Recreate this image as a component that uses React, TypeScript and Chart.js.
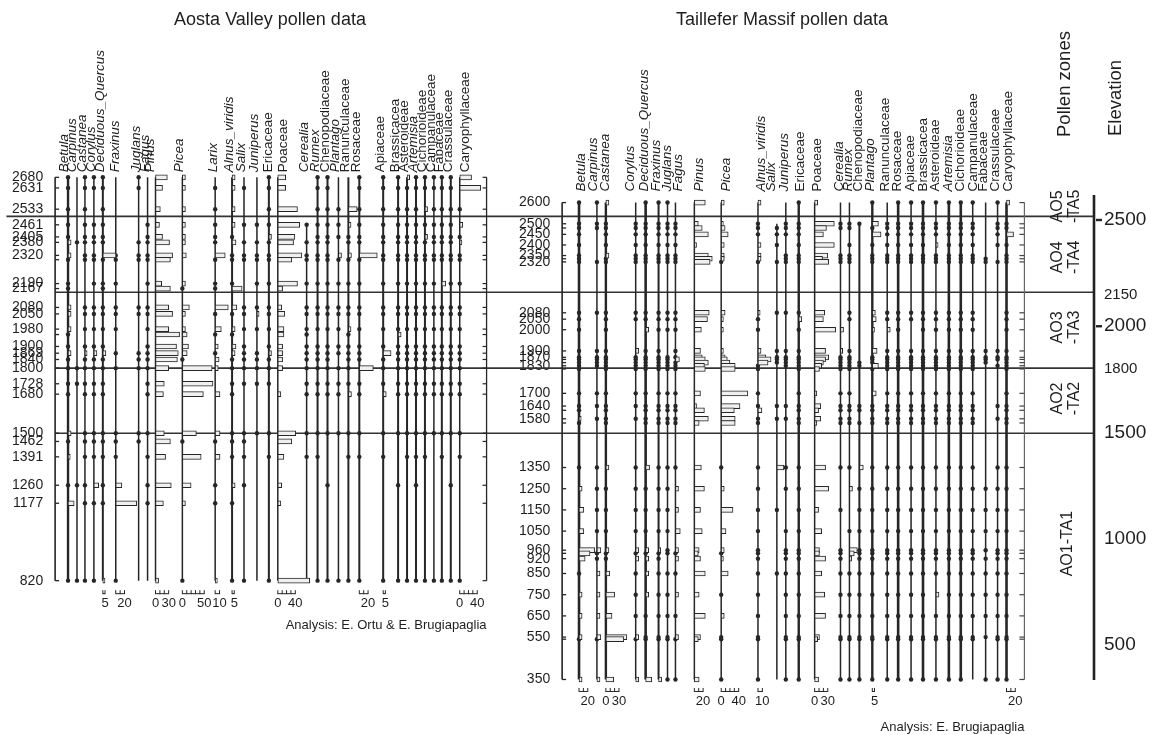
import { useEffect, useRef } from "react";
import { Chart, registerables } from "chart.js";

Chart.register(...registerables);

const FONT = "'Liberation Sans', Arial, Helvetica, sans-serif";
const INK = "#262626";

// ---------------- Aosta Valley record ----------------
// sample elevations (m a.s.l.), top to bottom
const aostaElev = [2680, 2631, 2533, 2461, 2405, 2380, 2320, 2300, 2190, 2167, 2080, 2050, 1980, 1955, 1900, 1869, 1840, 1800, 1728, 1680, 1500, 1462, 1391, 1260, 1177, 820];
const aostaTickLabels = [2680, 2631, 2533, 2461, 2405, 2380, 2320, 2190, 2167, 2080, 2050, 1980, 1900, 1869, 1840, 1800, 1728, 1680, 1500, 1462, 1391, 1260, 1177, 820];

// pollen percentages per taxon, one value per sample
const aoBetula = [1, 1, 1, 1, 1, 7, 7, 1, 1, 1, 7, 7, 7, 1, 1, 7, 1, 1, 1, 1, 7, 1, 5, 1, 14, 1];
const aoCarpinus = [0, 0, 0, 0, 0, 1, 0, 0, 0, 0, 0, 0, 0, 0, 0, 0, 0, 1, 1, 0, 0, 0, 0, 1, 0, 1];
const aoCastanea = [1, 1, 1, 1, 1, 1, 1, 1, 0, 0, 1, 1, 1, 0, 1, 5, 1, 1, 1, 1, 1, 1, 1, 1, 1, 1];
const aoCorylus = [1, 1, 0, 1, 1, 1, 1, 1, 1, 0, 1, 1, 1, 0, 1, 7, 1, 1, 1, 1, 1, 1, 1, 11, 1, 1];
const aoQuercus = [1, 1, 1, 1, 1, 1, 30, 1, 1, 1, 1, 1, 1, 0, 1, 7, 1, 1, 1, 1, 1, 1, 1, 1, 1, 5];
const aoFraxinus = [0, 0, 0, 0, 0, 0, 1, 1, 1, 0, 1, 1, 1, 0, 0, 1, 0, 1, 0, 0, 1, 1, 1, 14, 48, 1];
const aoJuglans = [1, 1, 0, 0, 0, 1, 1, 1, 0, 0, 1, 1, 0, 0, 0, 1, 1, 1, 0, 0, 1, 1, 0, 0, 0, 0];
const aoFagus = [0, 0, 0, 1, 1, 1, 1, 1, 1, 0, 1, 1, 1, 0, 1, 1, 1, 1, 1, 1, 1, 0, 1, 1, 1, 0];
const aoPinus = [27, 16, 11, 9, 16, 32, 39, 34, 14, 34, 30, 39, 30, 55, 48, 52, 50, 30, 20, 18, 20, 34, 23, 36, 18, 7];
const aoPicea = [7, 7, 7, 7, 7, 7, 9, 0, 7, 1, 16, 7, 7, 11, 14, 11, 1, 68, 70, 48, 32, 1, 43, 20, 7, 1];
const aoLarix = [0, 1, 1, 1, 1, 1, 23, 1, 1, 1, 30, 1, 14, 1, 7, 1, 9, 7, 0, 11, 11, 1, 11, 1, 1, 5];
const aoAlnus = [7, 7, 7, 7, 1, 9, 1, 1, 1, 23, 11, 1, 7, 1, 9, 7, 1, 1, 1, 1, 1, 1, 1, 7, 1, 1];
const aoSalix = [0, 1, 0, 1, 0, 1, 1, 1, 0, 0, 1, 1, 1, 0, 1, 1, 1, 1, 1, 0, 1, 1, 1, 1, 0, 1];
const aoJuniperus = [0, 0, 0, 1, 0, 1, 1, 1, 1, 0, 1, 5, 1, 0, 0, 1, 1, 1, 1, 0, 1, 0, 0, 0, 0, 0];
const aoEricaceae = [1, 1, 1, 1, 6, 1, 1, 1, 1, 0, 1, 1, 1, 0, 1, 6, 1, 1, 1, 0, 1, 0, 1, 0, 0, 1];
const aoPoaceae = [18, 18, 45, 50, 39, 36, 55, 32, 45, 11, 9, 16, 14, 14, 11, 11, 11, 11, 0, 7, 41, 32, 14, 9, 7, 73];
const aoCerealia = [0, 0, 0, 1, 0, 1, 1, 1, 1, 0, 1, 1, 1, 1, 1, 1, 1, 1, 1, 1, 1, 0, 1, 0, 0, 1];
const aoRumex = [1, 1, 1, 1, 1, 1, 1, 1, 1, 0, 1, 1, 1, 0, 1, 1, 1, 1, 1, 1, 1, 0, 1, 0, 0, 1];
const aoChenopod = [1, 1, 1, 1, 1, 1, 1, 1, 1, 0, 1, 1, 1, 0, 1, 1, 1, 1, 1, 1, 1, 0, 0, 1, 0, 1];
const aoPlantago = [0, 0, 1, 1, 1, 0, 7, 1, 1, 0, 1, 1, 1, 0, 1, 1, 0, 1, 1, 1, 1, 0, 0, 0, 0, 1];
const aoRanunc = [0, 0, 20, 6, 1, 1, 7, 1, 1, 0, 1, 1, 6, 1, 1, 1, 1, 1, 1, 7, 1, 0, 1, 0, 0, 1];
const aoRosaceae = [1, 1, 1, 1, 1, 1, 41, 1, 1, 0, 1, 1, 1, 0, 1, 1, 1, 32, 1, 1, 1, 0, 1, 0, 0, 1];
const aoApiaceae = [1, 1, 1, 1, 1, 1, 1, 1, 1, 0, 1, 1, 1, 0, 1, 18, 1, 1, 1, 7, 1, 0, 1, 0, 0, 1];
const aoBrassica = [1, 1, 1, 1, 1, 1, 1, 1, 1, 0, 1, 1, 1, 7, 1, 1, 1, 1, 1, 1, 1, 0, 0, 1, 0, 1];
const aoAsteroid = [6, 1, 1, 1, 1, 1, 1, 1, 1, 0, 1, 1, 1, 0, 1, 1, 1, 1, 1, 1, 1, 0, 1, 0, 0, 1];
const aoArtemisia = [1, 1, 1, 1, 1, 1, 1, 1, 1, 0, 1, 1, 1, 0, 1, 1, 1, 1, 1, 1, 1, 0, 1, 1, 0, 1];
const aoCichor = [1, 1, 6, 1, 6, 1, 1, 1, 1, 0, 1, 1, 1, 0, 1, 1, 1, 1, 1, 1, 1, 0, 1, 0, 0, 1];
const aoCampan = [1, 1, 1, 1, 1, 1, 1, 1, 1, 0, 1, 1, 1, 0, 1, 1, 1, 1, 1, 1, 1, 0, 0, 0, 0, 1];
const aoFabaceae = [1, 1, 1, 1, 1, 1, 1, 1, 9, 0, 1, 1, 1, 0, 1, 1, 1, 1, 1, 1, 1, 0, 1, 0, 0, 1];
const aoCrassul = [1, 1, 1, 1, 1, 1, 1, 1, 1, 0, 1, 1, 1, 0, 1, 1, 1, 1, 1, 1, 1, 0, 0, 1, 0, 1];
const aoCaryoph = [27, 48, 1, 7, 1, 5, 1, 1, 1, 0, 1, 1, 1, 0, 1, 1, 1, 1, 1, 1, 1, 0, 1, 0, 0, 1];

// percentage scale keys under the Aosta columns
const aostaScaleTaxa = ["Deciduous_Quercus", "Fraxinus", "Pinus", "Picea", "Larix", "Alnus_viridis", "Poaceae", "Rosaceae", "Apiaceae", "Caryophyllaceae"];
const aostaScaleMax = [5, 20, 30, 50, 10, 5, 40, 20, 5, 40];
const aostaScaleZero = [false, false, true, true, false, false, true, false, false, true];

// ---------------- Taillefer Massif record ----------------
const taillElev = [2600, 2500, 2480, 2450, 2400, 2350, 2335, 2320, 2080, 2050, 2000, 1900, 1870, 1860, 1845, 1830, 1815, 1700, 1640, 1620, 1580, 1560, 1350, 1250, 1150, 1050, 960, 945, 920, 850, 750, 650, 550, 540, 350];
const taillTickLabels = [2600, 2500, 2450, 2400, 2350, 2320, 2080, 2050, 2000, 1900, 1870, 1830, 1700, 1640, 1580, 1350, 1250, 1150, 1050, 960, 920, 850, 750, 650, 550, 350];

const tfBetula = [1, 1, 1, 1, 1, 1, 1, 1, 1, 1, 1, 1, 1, 1, 1, 1, 1, 1, 1, 1, 5, 1, 1, 7, 11, 11, 36, 25, 14, 1, 7, 7, 7, 1, 7];
const tfCarpinus = [1, 1, 1, 0, 0, 0, 0, 1, 1, 0, 0, 1, 1, 1, 1, 1, 0, 1, 1, 0, 1, 0, 1, 1, 1, 1, 9, 1, 1, 7, 7, 7, 9, 1, 7];
const tfCastanea = [7, 1, 1, 1, 1, 7, 1, 1, 1, 1, 1, 1, 1, 1, 1, 1, 1, 1, 1, 1, 1, 1, 7, 1, 1, 1, 7, 1, 1, 9, 20, 14, 48, 41, 18];
const tfCorylus = [0, 1, 1, 1, 1, 1, 1, 1, 1, 1, 0, 7, 1, 1, 1, 1, 1, 1, 1, 0, 1, 0, 1, 1, 1, 1, 7, 1, 7, 1, 1, 1, 7, 1, 7];
const tfQuercus = [1, 1, 1, 1, 1, 1, 1, 1, 1, 1, 7, 1, 1, 1, 1, 1, 1, 1, 1, 1, 1, 1, 9, 1, 1, 1, 7, 1, 7, 7, 7, 1, 1, 1, 14];
const tfFraxinus = [1, 1, 1, 1, 1, 1, 1, 1, 1, 1, 1, 1, 1, 1, 1, 1, 1, 1, 1, 1, 1, 1, 1, 1, 1, 1, 5, 1, 1, 1, 1, 1, 1, 1, 7];
const tfJuglans = [1, 1, 1, 1, 1, 1, 1, 1, 1, 1, 1, 0, 1, 1, 1, 1, 1, 1, 1, 1, 1, 1, 1, 1, 1, 1, 1, 1, 0, 1, 1, 1, 1, 1, 1];
const tfFagus = [0, 1, 1, 1, 1, 1, 1, 1, 1, 1, 1, 1, 1, 9, 1, 1, 1, 1, 1, 1, 1, 1, 1, 7, 7, 11, 7, 1, 7, 1, 7, 1, 7, 1, 1];
const tfPinus = [25, 9, 18, 32, 5, 32, 41, 36, 34, 30, 16, 14, 18, 25, 32, 23, 25, 14, 5, 23, 32, 11, 16, 23, 14, 18, 11, 9, 14, 25, 11, 25, 14, 9, 11];
const tfPicea = [7, 5, 9, 16, 7, 7, 7, 2, 9, 5, 5, 5, 9, 14, 20, 32, 32, 61, 43, 30, 32, 32, 1, 7, 27, 11, 7, 2, 5, 16, 1, 7, 1, 1, 1];
const tfAlnus = [7, 1, 1, 1, 7, 7, 7, 1, 5, 1, 1, 7, 18, 30, 23, 1, 1, 1, 1, 9, 1, 1, 1, 1, 1, 1, 1, 1, 1, 1, 1, 1, 1, 1, 1];
const tfSalix = [0, 0, 1, 1, 1, 0, 0, 1, 1, 0, 0, 1, 1, 1, 1, 0, 0, 0, 1, 0, 1, 0, 16, 0, 1, 0, 0, 0, 0, 1, 0, 0, 0, 0, 0];
const tfJuniperus = [0, 1, 1, 1, 0, 1, 1, 1, 1, 0, 0, 1, 1, 1, 1, 1, 0, 0, 1, 0, 1, 0, 1, 1, 0, 1, 1, 1, 1, 1, 1, 1, 1, 1, 1];
const tfEricaceae = [1, 1, 1, 1, 1, 1, 1, 1, 1, 7, 1, 1, 1, 1, 1, 1, 1, 1, 1, 1, 1, 1, 1, 1, 1, 1, 1, 1, 1, 1, 1, 1, 1, 1, 1];
const tfPoaceae = [7, 45, 27, 20, 45, 30, 18, 32, 23, 20, 48, 25, 32, 25, 20, 16, 11, 5, 14, 9, 14, 5, 25, 32, 9, 16, 11, 11, 25, 16, 23, 25, 11, 7, 9];
const tfCerealia = [0, 1, 1, 0, 0, 1, 1, 1, 0, 0, 7, 5, 1, 1, 1, 1, 1, 1, 1, 1, 1, 1, 1, 0, 1, 0, 1, 1, 1, 1, 1, 1, 1, 1, 1];
const tfRumex = [0, 1, 1, 0, 1, 1, 1, 1, 1, 1, 0, 1, 1, 1, 1, 1, 1, 1, 1, 1, 1, 1, 1, 7, 0, 1, 18, 11, 5, 1, 1, 1, 1, 1, 1];
const tfChenopod = [0, 1, 0, 0, 0, 0, 0, 0, 0, 0, 0, 0, 0, 0, 1, 1, 0, 0, 1, 1, 0, 1, 9, 1, 1, 1, 1, 1, 1, 1, 1, 1, 1, 1, 1];
const tfPlantago = [1, 14, 1, 20, 1, 1, 1, 1, 7, 9, 5, 11, 1, 1, 1, 14, 1, 9, 1, 1, 1, 1, 1, 1, 1, 1, 1, 1, 1, 1, 1, 1, 1, 1, 1];
const tfRanunc = [0, 1, 1, 1, 1, 1, 1, 1, 1, 1, 7, 1, 1, 1, 1, 1, 1, 1, 1, 1, 1, 1, 1, 1, 1, 1, 1, 1, 1, 1, 1, 1, 1, 1, 1];
const tfRosaceae = [1, 1, 1, 1, 1, 1, 1, 1, 1, 1, 1, 1, 1, 1, 1, 1, 1, 1, 1, 1, 1, 1, 1, 1, 1, 1, 1, 1, 1, 1, 1, 1, 1, 1, 1];
const tfApiaceae = [1, 1, 1, 1, 1, 1, 1, 1, 1, 1, 0, 1, 1, 1, 1, 1, 1, 1, 1, 1, 1, 1, 1, 1, 1, 1, 1, 1, 1, 1, 1, 1, 1, 1, 1];
const tfBrassica = [1, 1, 1, 1, 1, 1, 1, 1, 1, 1, 1, 1, 1, 1, 1, 1, 1, 1, 1, 1, 1, 1, 1, 1, 1, 1, 1, 1, 1, 1, 1, 1, 1, 1, 1];
const tfAsteroid = [1, 1, 1, 1, 5, 1, 1, 1, 1, 1, 1, 1, 1, 1, 1, 1, 1, 1, 1, 1, 1, 1, 1, 1, 1, 1, 1, 1, 1, 1, 7, 1, 1, 1, 1];
const tfArtemisia = [1, 1, 1, 1, 1, 1, 1, 1, 1, 1, 1, 1, 1, 1, 1, 1, 1, 1, 1, 1, 1, 1, 1, 1, 1, 1, 1, 1, 1, 1, 1, 1, 1, 1, 1];
const tfCichor = [1, 1, 1, 1, 1, 1, 1, 1, 1, 1, 1, 1, 1, 1, 1, 1, 1, 1, 1, 1, 1, 1, 1, 1, 1, 1, 1, 1, 1, 1, 1, 1, 1, 1, 1];
const tfCampan = [1, 1, 1, 1, 1, 1, 1, 1, 1, 1, 1, 1, 1, 1, 1, 1, 1, 1, 1, 1, 1, 1, 1, 1, 1, 1, 1, 1, 1, 1, 1, 1, 1, 1, 0];
const tfFabaceae = [0, 0, 0, 0, 0, 0, 1, 1, 0, 0, 0, 1, 1, 1, 1, 0, 0, 0, 0, 0, 0, 0, 0, 1, 1, 1, 1, 0, 1, 1, 1, 1, 1, 0, 1];
const tfCrassul = [1, 1, 1, 1, 1, 0, 0, 1, 0, 0, 0, 1, 1, 1, 0, 1, 0, 0, 1, 0, 1, 0, 1, 1, 1, 1, 1, 1, 1, 1, 1, 1, 1, 1, 1];
const tfCaryoph = [7, 1, 1, 16, 1, 1, 1, 1, 1, 1, 1, 1, 1, 1, 1, 1, 1, 1, 1, 1, 1, 1, 1, 1, 1, 1, 1, 1, 1, 1, 1, 1, 1, 1, 1];

const taillScaleTaxa = ["Betula", "Castanea", "Pinus", "Picea", "Alnus_viridis", "Poaceae", "Plantago", "Caryophyllaceae"];
const taillScaleMax = [20, 30, 20, 40, 10, 30, 5, 20];
const taillScaleZero = [false, true, false, true, false, true, false, false];

// ---------------- zones and elevation axis ----------------
const zoneBounds = [2500, 2150, 1800, 1500];
const zoneNames = [["AO5", "-TA5"], ["AO4", "-TA4"], ["AO3", "-TA3"], ["AO2", "-TA2"], ["AO1-TA1"]];
const zoneLabelElev = [2546, 2311, 1988, 1660, 991];
const elevationTicks = [2500, 2150, 2000, 1800, 1500, 1000, 500];
const elevationMinor = [2150, 1800];
const elevationSpan = [2618, 335];

// ---------------- layout ----------------
const PCT = 0.44; // x-axis units per pollen percent
const PLOT_RIGHT = 1094;
const A_RANGE = { min: 312.7, max: 2712.3 };
const T_RANGE = { min: 293, max: 2756.3 };
// the elevation axis box reaches past the plot area by its label half-heights
const E_RANGE = { min: 231.8, max: 2787 };
const HEAD_FONT = 13.5;

type Column = { name: string; values: number[]; x: number; italic?: boolean; w?: number; dx?: number; from?: number };

const aostaCols: Column[] = [
  { name: "Betula", values: aoBetula, x: 62, italic: true, w: 2.4, dx: 0 },
  { name: "Carpinus", values: aoCarpinus, x: 71, italic: true, dx: -1 },
  { name: "Castanea", values: aoCastanea, x: 79, italic: true },
  { name: "Corylus", values: aoCorylus, x: 88, italic: true },
  { name: "Deciduous_Quercus", values: aoQuercus, x: 97, italic: true, w: 2 },
  { name: "Fraxinus", values: aoFraxinus, x: 110, italic: true, dx: 3 },
  { name: "Juglans", values: aoJuglans, x: 133, italic: true },
  { name: "Fagus", values: aoFagus, x: 142, italic: true },
  { name: "Pinus", values: aoPinus, x: 150, italic: true, dx: -2 },
  { name: "Picea", values: aoPicea, x: 177, italic: true },
  { name: "Larix", values: aoLarix, x: 210, italic: true, dx: 2 },
  { name: "Alnus_viridis", values: aoAlnus, x: 227, italic: true, w: 2 },
  { name: "Salix", values: aoSalix, x: 239, italic: true },
  { name: "Juniperus", values: aoJuniperus, x: 252, italic: true },
  { name: "Ericaceae", values: aoEricaceae, x: 264, w: 2, dx: 3 },
  { name: "Poaceae", values: aoPoaceae, x: 273, dx: 9 },
  { name: "Cerealia", values: aoCerealia, x: 302, italic: true, from: 2461 },
  { name: "Rumex", values: aoRumex, x: 313, italic: true, w: 2 },
  { name: "Chenopodiaceae", values: aoChenopod, x: 323, w: 2 },
  { name: "Plantago", values: aoPlantago, x: 334, italic: true },
  { name: "Ranunculaceae", values: aoRanunc, x: 344, w: 2 },
  { name: "Rosaceae", values: aoRosaceae, x: 355, w: 2 },
  { name: "Apiaceae", values: aoApiaceae, x: 379, w: 2 },
  { name: "Brassicacea", values: aoBrassica, x: 394, w: 2 },
  { name: "Asteroideae", values: aoAsteroid, x: 403, w: 2 },
  { name: "Artemisia", values: aoArtemisia, x: 412, italic: true, w: 2 },
  { name: "Cichorioideae", values: aoCichor, x: 421, w: 2 },
  { name: "Campanulaceae", values: aoCampan, x: 430 },
  { name: "Fabaceae", values: aoFabaceae, x: 438, w: 2 },
  { name: "Crassulaceae", values: aoCrassul, x: 447, w: 2 },
  { name: "Caryophyllaceae", values: aoCaryoph, x: 456, dx: 9 },
];

const taillCols: Column[] = [
  { name: "Betula", values: tfBetula, x: 576, italic: true, w: 2.6, dx: 6 },
  { name: "Carpinus", values: tfCarpinus, x: 594, italic: true, dx: 0 },
  { name: "Castanea", values: tfCastanea, x: 603, italic: true, w: 2.4 },
  { name: "Corylus", values: tfCorylus, x: 633, italic: true, dx: -2 },
  { name: "Deciduous_Quercus", values: tfQuercus, x: 643, italic: true, w: 2.6, dx: 2 },
  { name: "Fraxinus", values: tfFraxinus, x: 656, italic: true, w: 2, dx: 1 },
  { name: "Juglans", values: tfJuglans, x: 665, italic: true },
  { name: "Fagus", values: tfFagus, x: 673, italic: true, dx: 7 },
  { name: "Pinus", values: tfPinus, x: 692, italic: true, dx: 9 },
  { name: "Picea", values: tfPicea, x: 719, italic: true, dx: 9 },
  { name: "Alnus_viridis", values: tfAlnus, x: 756, italic: true, dx: 7 },
  { name: "Salix", values: tfSalix, x: 775, italic: true, dx: -2, from: 2500 },
  { name: "Juniperus", values: tfJuniperus, x: 784, italic: true, dx: 2 },
  { name: "Ericaceae", values: tfEricaceae, x: 797, w: 2.4, dx: 5 },
  { name: "Poaceae", values: tfPoaceae, x: 813, dx: 6 },
  { name: "Cerealia", values: tfCerealia, x: 839, italic: true },
  { name: "Rumex", values: tfRumex, x: 848, italic: true },
  { name: "Chenopodiaceae", values: tfChenopod, x: 858, w: 2, from: 2500 },
  { name: "Plantago", values: tfPlantago, x: 871, italic: true, w: 2.4, dx: 2 },
  { name: "Ranunculaceae", values: tfRanunc, x: 886, dx: 2 },
  { name: "Rosaceae", values: tfRosaceae, x: 897, w: 2.6 },
  { name: "Apiaceae", values: tfApiaceae, x: 910 },
  { name: "Brassicacea", values: tfBrassica, x: 922, w: 2.6, dx: 4 },
  { name: "Asteroideae", values: tfAsteroid, x: 935 },
  { name: "Artemisia", values: tfArtemisia, x: 948, italic: true, w: 2.6 },
  { name: "Cichorioideae", values: tfCichor, x: 960, w: 2.6 },
  { name: "Campanulaceae", values: tfCampan, x: 972, dx: 4 },
  { name: "Fabaceae", values: tfFabaceae, x: 985, dx: 1 },
  { name: "Crassulaceae", values: tfCrassul, x: 997, dx: 1 },
  { name: "Caryophyllaceae", values: tfCaryoph, x: 1006, w: 2.6, dx: 5 },
];

// ---------------- dataset builders ----------------
function vline(x: number, y0: number, y1: number, yAxisID: string, width: number, color = INK, order = 2) {
  return {
    type: "scatter",
    showLine: true,
    data: [{ x, y: y0 }, { x, y: y1 }],
    yAxisID,
    borderColor: color,
    borderWidth: width,
    pointRadius: 0,
    order,
    clip: false,
  };
}

function diagramDatasets(cols: Column[], elev: number[], yAxisID: string) {
  const out: any[] = [];
  const bars: any[] = [];
  const dots: any[] = [];
  const top = elev[0];
  const bottom = elev[elev.length - 1];
  cols.forEach((c) => {
    out.push(vline(c.x, c.from ?? top, bottom, yAxisID, c.w ?? 1.5));
    c.values.forEach((v, i) => {
      if (!v) return;
      const len = v * PCT;
      if (len >= 2) bars.push({ y: elev[i], x: [c.x, c.x + len] });
      else dots.push({ x: c.x, y: elev[i] });
    });
  });
  out.push({
    type: "bar",
    indexAxis: "y",
    yAxisID,
    data: bars,
    backgroundColor: "#f0f0f0",
    borderColor: INK,
    borderWidth: 1,
    borderSkipped: false,
    barThickness: 5,
    order: 0,
    clip: false,
  });
  out.push({
    type: "scatter",
    yAxisID,
    data: dots,
    pointStyle: "circle",
    pointRadius: 2.2,
    pointBackgroundColor: INK,
    pointBorderWidth: 0,
    order: 1,
    clip: false,
  });
  return out;
}

function tickMarks(x: number, values: number[], yAxisID: string, r: number, width: number, color = INK) {
  return {
    type: "scatter",
    yAxisID,
    data: values.map((v) => ({ x, y: v })),
    pointStyle: "line",
    pointRadius: r,
    pointBorderColor: color,
    pointBorderWidth: width,
    order: 1,
    clip: false,
  };
}

function rotText(ctx: CanvasRenderingContext2D, text: string, x: number, y: number, font: string, align: CanvasTextAlign = "left", baseline: CanvasTextBaseline = "alphabetic") {
  ctx.save();
  ctx.translate(x, y);
  ctx.rotate(-Math.PI / 2);
  ctx.font = font;
  ctx.textAlign = align;
  ctx.textBaseline = baseline;
  ctx.fillText(text, 0, 0);
  ctx.restore();
}

const textLayer = {
  id: "textLayer",
  afterDraw(chart: any) {
    const { ctx } = chart;
    const sx = chart.scales.x;
    const yA = chart.scales.yA;
    const yT = chart.scales.yT;
    ctx.save();
    ctx.fillStyle = "#1e1e1e";

    ctx.font = `18px ${FONT}`;
    ctx.textAlign = "center";
    ctx.textBaseline = "middle";
    ctx.fillText("Aosta Valley pollen data", 270, 20);
    ctx.fillText("Taillefer Massif pollen data", 782, 20);

    // taxon headers
    const headers = (cols: Column[], y0: number, defDx: number) => {
      cols.forEach((c) => {
        rotText(ctx, c.name, sx.getPixelForValue(c.x) + (c.dx ?? defDx), y0, `${c.italic ? "italic " : ""}${HEAD_FONT}px ${FONT}`);
      });
    };
    headers(aostaCols, yA.getPixelForValue(aostaElev[0]) - 5, 1);
    headers(taillCols, yT.getPixelForValue(taillElev[0]) - 11, 3);

    // percentage scale keys
    const keys = (cols: Column[], taxa: string[], maxes: number[], zeros: boolean[], yBase: number) => {
      taxa.forEach((name, i) => {
        const col = cols.find((c) => c.name === name);
        if (!col) return;
        const max = maxes[i];
        const x0 = sx.getPixelForValue(col.x);
        const x1 = sx.getPixelForValue(col.x + max * PCT);
        ctx.strokeStyle = INK;
        ctx.lineWidth = 1;
        ctx.beginPath();
        ctx.moveTo(x0, yBase);
        ctx.lineTo(x1, yBase);
        const step = max <= 5 ? 5 : 10;
        for (let v = 0; v <= max; v += step) {
          const px = sx.getPixelForValue(col.x + v * PCT);
          ctx.moveTo(px, yBase + 0.5);
          ctx.lineTo(px, yBase - 3.5);
        }
        ctx.stroke();
        ctx.font = `13px ${FONT}`;
        ctx.textAlign = "center";
        ctx.textBaseline = "middle";
        ctx.fillText(String(max), x1, yBase + 10);
        if (zeros[i]) ctx.fillText("0", x0, yBase + 10);
      });
    };
    keys(aostaCols, aostaScaleTaxa, aostaScaleMax, aostaScaleZero, yA.getPixelForValue(aostaElev[aostaElev.length - 1]) + 13);
    keys(taillCols, taillScaleTaxa, taillScaleMax, taillScaleZero, yT.getPixelForValue(taillElev[taillElev.length - 1]) + 12);

    // credits
    ctx.font = `13px ${FONT}`;
    ctx.textAlign = "right";
    ctx.textBaseline = "middle";
    ctx.fillText("Analysis: E. Ortu & E. Brugiapaglia", sx.getPixelForValue(483), 625);
    ctx.fillText("Analysis: E. Brugiapaglia", sx.getPixelForValue(1024), 727);

    // zone names
    zoneNames.forEach((lines, i) => {
      const y = yA.getPixelForValue(zoneLabelElev[i]);
      const f = `16px ${FONT}`;
      if (lines.length === 2) {
        rotText(ctx, lines[0], 1058, y, f, "center", "middle");
        rotText(ctx, lines[1], 1075, y, f, "center", "middle");
      } else {
        rotText(ctx, lines[0], 1068, y, f, "center", "middle");
      }
    });

    rotText(ctx, "Pollen zones", 1065, 137, `18.5px ${FONT}`, "left", "middle");
    rotText(ctx, "Elevation", 1116, 136, `18.5px ${FONT}`, "left", "middle");
    ctx.restore();
  },
};

function buildConfig(): any {
  const datasets: any[] = [];

  // zone boundaries across both records
  zoneBounds.forEach((e, i) => {
    datasets.push({
      type: "scatter",
      showLine: true,
      data: [{ x: i === 0 ? 0 : 49, y: e }, { x: PLOT_RIGHT, y: e }],
      yAxisID: "yA",
      borderColor: "#333",
      borderWidth: 1.6,
      pointRadius: 0,
      order: 3,
      clip: false,
    });
  });

  datasets.push(...diagramDatasets(aostaCols, aostaElev, "yA"));
  datasets.push(...diagramDatasets(taillCols, taillElev, "yT"));

  // depth axes of each record
  const aTop = aostaElev[0];
  const aBot = aostaElev[aostaElev.length - 1];
  const tTop = taillElev[0];
  const tBot = taillElev[taillElev.length - 1];
  datasets.push(vline(49, aTop, aBot, "yA", 1.6));
  datasets.push(tickMarks(51, aostaElev, "yA", 2, 1.3));
  datasets.push(vline(483, aTop, aBot, "yA", 1.3));
  datasets.push(tickMarks(481, aostaElev, "yA", 2, 1.2));
  datasets.push(vline(559, tTop, tBot, "yT", 1.6));
  datasets.push(tickMarks(561, taillElev, "yT", 2, 1.3));
  datasets.push(vline(1024, tTop, tBot, "yT", 1.2, "#666"));
  datasets.push(tickMarks(1021.5, taillElev, "yT", 2.5, 1.2, "#444"));

  // elevation axis
  datasets.push(vline(PLOT_RIGHT, elevationSpan[0], elevationSpan[1], "yE", 2.6, "#222"));
  datasets.push(tickMarks(PLOT_RIGHT + 5, elevationTicks.filter((v) => !elevationMinor.includes(v)), "yE", 3, 2.4, "#222"));

  const sampleAxis = (ticks: number[], xPos: number, range: { min: number; max: number }) => ({
    type: "linear",
    axis: "y",
    position: { x: xPos },
    min: range.min,
    max: range.max,
    grid: { display: false, drawTicks: false },
    border: { display: false },
    afterBuildTicks: (s: any) => {
      s.ticks = ticks.map((v) => ({ value: v }));
    },
    ticks: {
      autoSkip: false,
      padding: 5,
      color: "#1e1e1e",
      font: { family: FONT, size: 14 },
      callback: (v: number) => String(v),
    },
  });

  return {
    type: "scatter",
    data: { datasets },
    plugins: [textLayer],
    options: {
      responsive: false,
      maintainAspectRatio: false,
      animation: false,
      events: [],
      // the elevation labels add about 11px above and 12px below the plot area
      layout: { padding: { left: 0, right: 0, top: 159, bottom: 33 } },
      plugins: { legend: { display: false }, tooltip: { enabled: false } },
      scales: {
        x: { type: "linear", min: 0, max: PLOT_RIGHT, display: false },
        yA: sampleAxis(aostaTickLabels, 37, A_RANGE),
        yT: sampleAxis(taillTickLabels, 547, T_RANGE),
        yE: {
          type: "linear",
          axis: "y",
          position: "right",
          min: E_RANGE.min,
          max: E_RANGE.max,
          grid: { display: false, drawTicks: false },
          border: { display: false },
          afterBuildTicks: (s: any) => {
            s.ticks = elevationTicks.map((v) => ({ value: v }));
          },
          afterFit: (s: any) => {
            s.width = 1163 - PLOT_RIGHT;
          },
          ticks: {
            autoSkip: false,
            padding: 10,
            color: "#1e1e1e",
            font: (c: any) => ({ family: FONT, size: c.tick && elevationMinor.includes(c.tick.value) ? 15 : 19 }),
            callback: (v: number) => String(v),
          },
        },
      },
    },
  };
}

export default function App() {
  const ref = useRef<HTMLCanvasElement>(null);
  useEffect(() => {
    const canvas = ref.current;
    if (!canvas) return;
    const chart = new Chart(canvas, buildConfig());
    return () => chart.destroy();
  }, []);
  return (
    <div style={{ position: "fixed", left: 0, top: 0, width: 1163, height: 735, background: "#fff" }}>
      <canvas ref={ref} width={1163} height={735} style={{ display: "block", width: 1163, height: 735 }} />
    </div>
  );
}
